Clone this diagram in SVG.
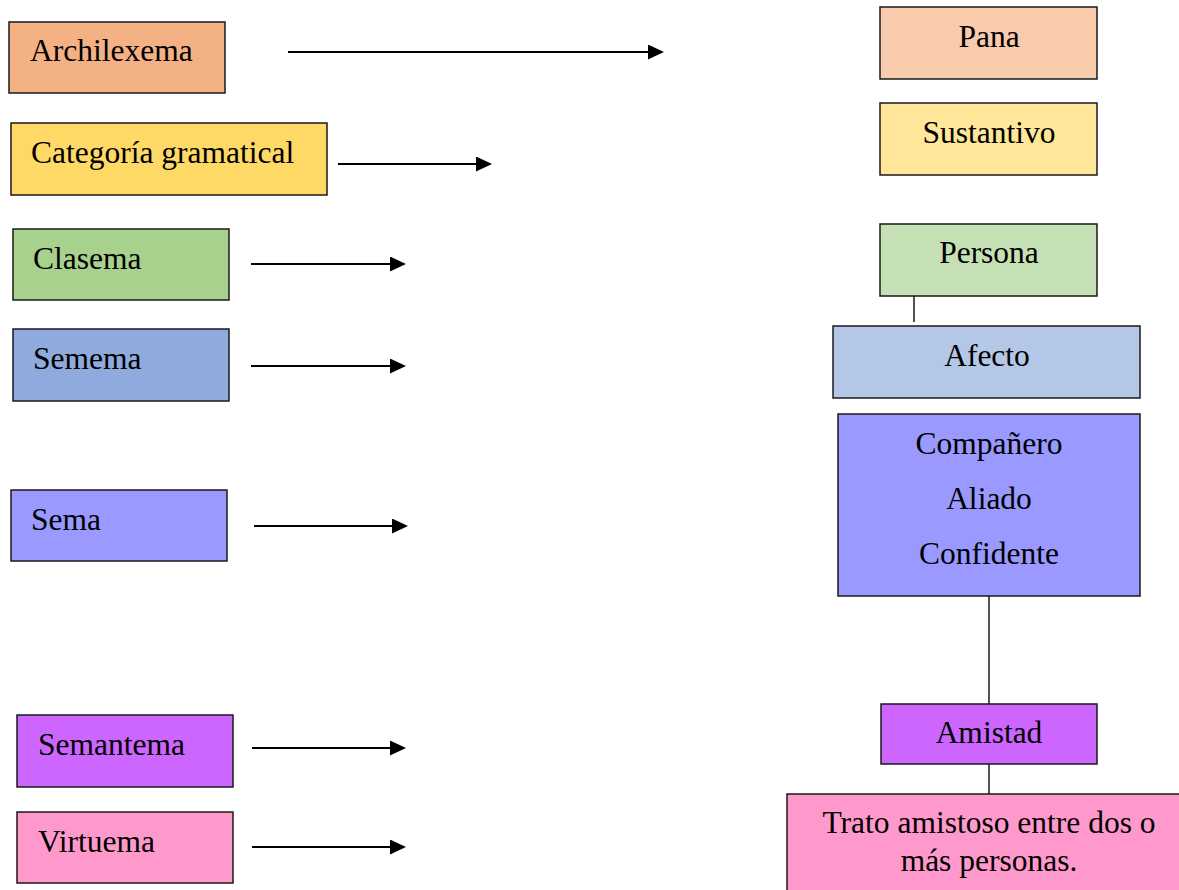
<svg xmlns="http://www.w3.org/2000/svg" width="1179" height="890" viewBox="0 0 1179 890">
<style>
.b{stroke:#1a1a1a;stroke-width:1.5}
text{font-family:"Liberation Serif","Times New Roman",serif;font-size:31.5px;fill:#000}
.c{text-anchor:middle}
.arr{stroke:#000;stroke-width:2;fill:none}
.ln{stroke:#1a1a1a;stroke-width:1.5;fill:none}
</style>
<defs>
<marker id="ah" markerUnits="userSpaceOnUse" markerWidth="16" markerHeight="16" refX="0" refY="7.5" orient="auto" viewBox="0 0 16 16">
<path d="M0,0 L16,7.5 L0,15 Z" fill="#000"/>
</marker>
</defs>
<rect width="1179" height="890" fill="#fff"/>
<g id="connectors">
<line class="arr" x1="288" y1="52" x2="648" y2="52" marker-end="url(#ah)"/>
<line class="arr" x1="338" y1="164" x2="476" y2="164" marker-end="url(#ah)"/>
<line class="arr" x1="251" y1="264" x2="390" y2="264" marker-end="url(#ah)"/>
<line class="arr" x1="251" y1="366" x2="390" y2="366" marker-end="url(#ah)"/>
<line class="arr" x1="254" y1="526" x2="392" y2="526" marker-end="url(#ah)"/>
<line class="arr" x1="252" y1="748" x2="390" y2="748" marker-end="url(#ah)"/>
<line class="arr" x1="252" y1="847" x2="390" y2="847" marker-end="url(#ah)"/>
<line class="ln" x1="914" y1="296" x2="914" y2="322"/>
<line class="ln" x1="989" y1="596" x2="989" y2="704"/>
<line class="ln" x1="989" y1="761" x2="989" y2="794"/>
</g>
<g id="archilexema"><rect class="b" x="9" y="22" width="216" height="71" fill="#F4B183"/><text x="30" y="61">Archilexema</text></g>
<g id="categoria"><rect class="b" x="11" y="123" width="316" height="72" fill="#FFD966"/><text x="31" y="163">Categoría gramatical</text></g>
<g id="clasema"><rect class="b" x="13" y="229" width="216" height="71" fill="#A9D18E"/><text x="33" y="269">Clasema</text></g>
<g id="semema"><rect class="b" x="13" y="329" width="216" height="72" fill="#8FAADC"/><text x="33" y="369">Semema</text></g>
<g id="sema"><rect class="b" x="11" y="490" width="216" height="71" fill="#9999FF"/><text x="31" y="530">Sema</text></g>
<g id="semantema"><rect class="b" x="17" y="715" width="216" height="72" fill="#CC66FF"/><text x="38" y="755">Semantema</text></g>
<g id="virtuema"><rect class="b" x="17" y="812" width="216" height="71" fill="#FF99CC"/><text x="38" y="852">Virtuema</text></g>
<g id="pana"><rect class="b" x="880" y="7" width="217" height="72" fill="#F8CBAD"/><text class="c" x="989" y="47">Pana</text></g>
<g id="sustantivo"><rect class="b" x="880" y="103" width="217" height="72" fill="#FFE699"/><text class="c" x="989" y="143">Sustantivo</text></g>
<g id="persona"><rect class="b" x="880" y="224" width="217" height="72" fill="#C5E0B4"/><text class="c" x="989" y="263">Persona</text></g>
<g id="afecto"><rect class="b" x="833" y="326" width="307" height="72" fill="#B4C7E7"/><text class="c" x="987" y="366">Afecto</text></g>
<g id="sema-valores"><rect class="b" x="838" y="414" width="302" height="182" fill="#9999FF"/><text class="c" x="989" y="454">Compañero</text><text class="c" x="989" y="509">Aliado</text><text class="c" x="989" y="564">Confidente</text></g>
<g id="amistad"><rect class="b" x="881" y="704" width="216" height="60" fill="#CC66FF"/><text class="c" x="989" y="743">Amistad</text></g>
<g id="trato"><rect class="b" x="787" y="794" width="400" height="100" fill="#FF99CC"/><text class="c" x="989" y="833">Trato amistoso entre dos o</text><text class="c" x="989" y="871">más personas.</text></g>
</svg>
